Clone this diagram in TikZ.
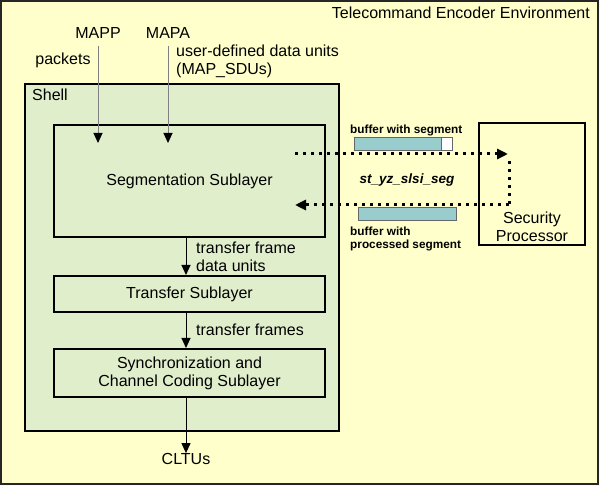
\documentclass[tikz,border=0pt]{standalone}
\usepackage{fontspec}
\setmainfont{Liberation Sans}
\usetikzlibrary{arrows.meta}
\definecolor{envbg}{RGB}{255,255,204}
\definecolor{shellbg}{RGB}{224,238,204}
\definecolor{bufcol}{RGB}{153,204,204}
\begin{document}
\begin{tikzpicture}[x=1pt,y=-1pt,
  box/.style={draw, line width=2pt, fill=shellbg, inner sep=0pt, align=center, font=\fontsize{16}{18}\selectfont},
  lbl/.style={font=\fontsize{16}{18}\selectfont, inner sep=0pt, align=left},
  small/.style={font=\fontsize{11.8}{13}\selectfont\bfseries, inner sep=0pt, align=left},
  bufbox/.style={draw=black!60, line width=1pt, inner sep=0pt, minimum height=13pt},
  arr/.style={-{Triangle[width=9pt,length=10pt,color=black]}, line width=1pt},
  dotarr/.style={line width=3pt, dash pattern=on 3pt off 5pt, -{Triangle[width=10pt,length=11pt]}},
  dotline/.style={line width=3pt, dash pattern=on 3pt off 5pt}
]
% environment
\fill[envbg] (0,0) rectangle (600,486);
\draw[line width=2pt, black!85] (1,1) rectangle (598,484);
\node[lbl, anchor=east] (env) at (590,13) {Telecommand Encoder Environment};

% shell
\node[box, minimum width=314pt, minimum height=347pt] (shell) at (182,257.5) {};
\node[lbl, anchor=west] (shelll) at (32,95) {Shell};

% sublayers
\node[box, minimum width=271pt, minimum height=112pt] (seg) at (189.5,181) {Segmentation Sublayer};
\node[box, minimum width=271pt, minimum height=36pt] (tra) at (189.5,294) {Transfer Sublayer};
\node[box, minimum width=271pt, minimum height=48pt] (syn) at (189.5,373) {Synchronization and\\Channel Coding Sublayer};

% inputs
\node[lbl] (mapp) at (98,33) {MAPP};
\node[lbl] (mapa) at (168,33) {MAPA};
\node[lbl] (packets) at (63,60) {packets};
\node[lbl, anchor=west] (udu) at (176,61) {user-defined data units\\(MAP\_SDUs)};
\coordinate (mappS) at (98,46);
\coordinate (mapaS) at (168,46);
\coordinate (mappE) at (98,143);
\coordinate (mapaE) at (168,143);
\draw[arr, draw=gray] (mappS) -- (mappE);
\draw[arr, draw=gray] (mapaS) -- (mapaE);

% vertical flow
\draw[arr] (seg.south -| 186,0) -- (tra.north -| 186,0);
\draw[arr] (tra.south -| 186,0) -- (syn.north -| 186,0);
\node[lbl] (cltus) at (186,459) {CLTUs};
\draw[arr] (syn.south -| 186,0) -- (cltus.north);
\node[lbl, anchor=west] (tfdu) at (196,256.5) {transfer frame\\data units};
\node[lbl, anchor=west] (tf) at (196,330) {transfer frames};

% security processor
\node[draw, line width=2pt, inner sep=0pt, minimum width=106pt, minimum height=122pt] (sec) at (532,184) {};
\node[lbl, align=center] (secl) at (532,227) {Security\\Processor};

% buffers
\node[bufbox, fill=bufcol, minimum width=87pt] (buf1) at (397.5,144.5) {};
\node[bufbox, fill=white, minimum width=11pt] (buf1e) at (446.5,144.5) {};
\node[bufbox, fill=bufcol, minimum width=98pt] (buf2) at (407,214.5) {};
\node[small, anchor=west] (bws) at (350,130) {buffer with segment};
\node[small, anchor=west] (bwps) at (350,238.5) {buffer with\\processed segment};
\node[font=\fontsize{13.5}{15}\selectfont\bfseries\itshape, inner sep=0pt] (sts) at (407,180) {st\_yz\_slsi\_seg};

% dotted loop
\coordinate (d1) at (295,154);
\coordinate (d2) at (508,154);
\coordinate (d3) at (509,161);
\coordinate (d4) at (509,205);
\coordinate (d5) at (295,205);
\draw[dotarr] (d1) -- (d2);
\draw[dotline] (d3) -- (d4);
\draw[dotarr] (d4) -- (d5);
\end{tikzpicture}
\end{document}
